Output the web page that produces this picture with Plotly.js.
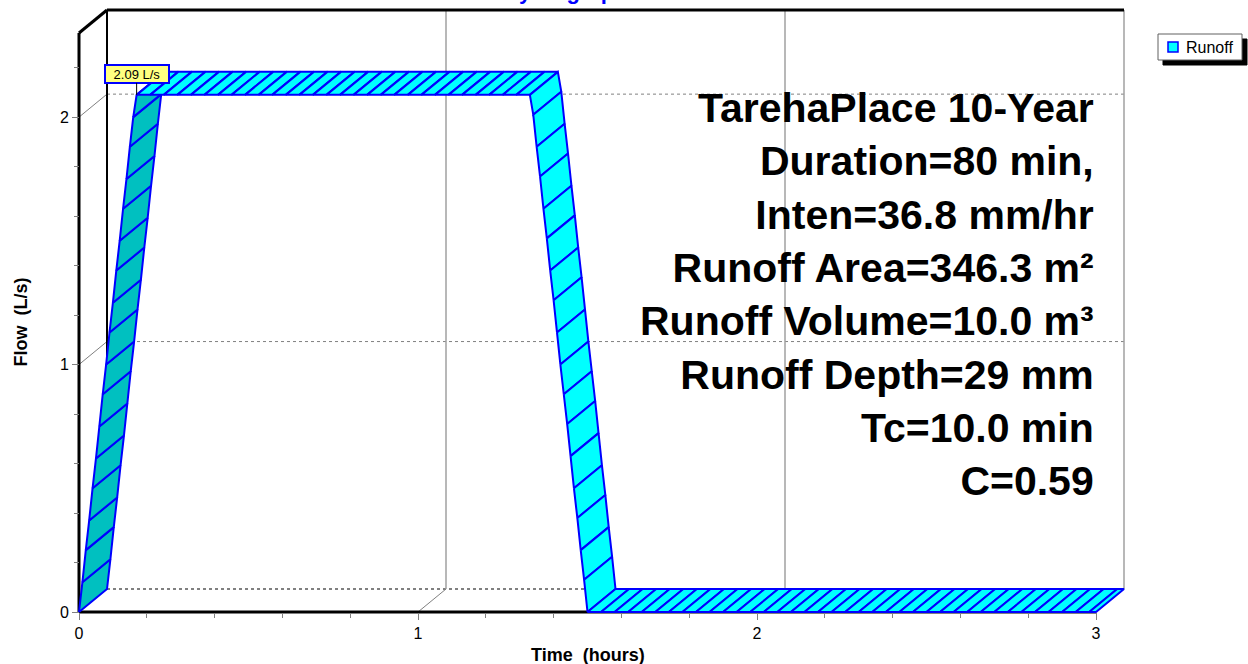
<!DOCTYPE html>
<html><head><meta charset="utf-8">
<script src="https://cdn.plot.ly/plotly-3.0.1.min.js"></script>
<style>html,body{margin:0;padding:0;background:#fff;}#chart{width:1248px;height:664px;}</style>
</head><body><div id="chart"></div>
<script>
// ---------------- data ----------------
const titleText = 'Hydrograph';
const seriesName = 'Runoff';
const xTitle = 'Time  (hours)';
const yTitle = 'Flow  (L/s)';
const xTickVals = [0, 1, 2, 3];
const xTickText = ['0', '1', '2', '3'];
const xMinorTicks = [0.2,0.4,0.6,0.8,1.2,1.4,1.6,1.8,2.2,2.4,2.6,2.8];
const yTickVals = [0, 1, 2];
const yTickText = ['0', '1', '2'];
const yMinorTicks = [0.2,0.4,0.6,0.8,1.2,1.4,1.6,1.8,2.2];

const riseTime = [0,0.01,0.02,0.03,0.04,0.05,0.06,0.07,0.08,0.09,0.10,0.11,0.12,0.13,0.14,0.15,0.16,0.17];
const riseFlow = [0,0.12,0.25,0.37,0.50,0.62,0.75,0.88,1.00,1.13,1.25,1.38,1.50,1.63,1.75,1.88,2.00,2.09];
const peakTime = [0.21,0.25,0.29,0.33,0.37,0.41,0.45,0.49,0.53,0.57,0.61,0.65,0.69,0.73,0.77,0.81,0.85,0.89,0.93,0.97,1.01,1.05,1.09,1.13,1.17,1.21,1.25,1.29,1.33];
const peakFlow = [2.09,2.09,2.09,2.09,2.09,2.09,2.09,2.09,2.09,2.09,2.09,2.09,2.09,2.09,2.09,2.09,2.09,2.09,2.09,2.09,2.09,2.09,2.09,2.09,2.09,2.09,2.09,2.09,2.09];
const fallTime = [1.34,1.35,1.36,1.37,1.38,1.39,1.40,1.41,1.42,1.43,1.44,1.45,1.46,1.47,1.48,1.49,1.50];
const fallFlow = [2.01,1.88,1.76,1.63,1.51,1.38,1.26,1.13,1.00,0.88,0.76,0.63,0.50,0.38,0.25,0.13,0.00];
const tailTime = [1.54,1.58,1.62,1.66,1.70,1.74,1.78,1.82,1.86,1.90,1.94,1.98,2.02,2.06,2.10,2.14,2.18,2.22,2.26,2.30,2.34,2.38,2.42,2.46,2.50,2.54,2.58,2.62,2.66,2.70,2.74,2.78,2.82,2.86,2.90,2.94,2.98,3.00];
const tailFlow = [0,0,0,0,0,0,0,0,0,0,0,0,0,0,0,0,0,0,0,0,0,0,0,0,0,0,0,0,0,0,0,0,0,0,0,0,0,0];

const peakLabel = '2.09 L/s';
const peakLabelTime = 0.17;
const peakLabelFlow = 2.09;

const infoLines = ['TarehaPlace 10-Year','Duration=80 min,','Inten=36.8 mm/hr','Runoff Area=346.3 m²','Runoff Volume=10.0 m³','Runoff Depth=29 mm','Tc=10.0 min','C=0.59'];

// ---------------- geometry / style ----------------
const W = 1248, H = 664;
const FL = 79, FR = 1096, FB = 612, FT = 33;   // front plane box (px)
const DEPTH_X = 28, DEPTH_Y = 23, PAD = 4;
const X_MAX = 3, Q_TOP = 2.34;
const pxH = (FR - FL) / X_MAX, pxQ = (FB - FT) / Q_TOP;
const DX = DEPTH_X / pxH, DY = DEPTH_Y / pxQ;
const margin = {l: FL - PAD, r: W - (FR + DEPTH_X + PAD), t: FT - DEPTH_Y - PAD, b: H - FB - PAD, pad: 0};
const plotW = W - margin.l - margin.r, plotH = H - margin.t - margin.b;
const xRange = [-PAD / pxH, X_MAX + (DEPTH_X + PAD) / pxH];
const yRange = [-PAD / pxQ, Q_TOP + (DEPTH_Y + PAD) / pxQ];
const px2x = p => (p - margin.l) / plotW;
const px2y = p => 1 - (p - margin.t) / plotH;

const FONT = 'Liberation Sans, Arial, Helvetica, sans-serif';
const CYAN = '#00ffff', TEAL = '#00c0c0', BLUE = '#0000ff', GRAY = '#808080', LGRAY = '#a0a0a0';

const time = riseTime.concat(peakTime, fallTime, tailTime);
const flow = riseFlow.concat(peakFlow, fallFlow, tailFlow);

// ribbon quads, painted in time order
const traces = [];
for (let i = 0; i < time.length - 1; i++) {
  const t0 = time[i], t1 = time[i + 1], q0 = flow[i], q1 = flow[i + 1];
  traces.push({
    type: 'scatter', mode: 'lines',
    x: [t0, t1, t1 + DX, t0 + DX, t0],
    y: [q0, q1, q1 + DY, q0 + DY, q0],
    fill: 'toself',
    fillcolor: q1 > q0 ? TEAL : CYAN,
    line: {color: BLUE, width: 2},
    name: seriesName, showlegend: false, hoverinfo: 'skip'
  });
}

const shapes = [];
function seg(x0, y0, x1, y1, color, width, dash, layer) {
  shapes.push({type: 'line', xref: 'x', yref: 'y', x0, y0, x1, y1,
    line: {color, width, dash: dash || 'solid'}, layer: layer || 'below'});
}
// back wall grid
yTickVals.forEach(q => {
  seg(DX, q + DY, X_MAX + DX, q + DY, GRAY, q === 0 ? 2 : 1, 'dot');
  if (q > 0) seg(0, q, DX, q + DY, GRAY, 1);
});
xTickVals.forEach(t => {
  if (t > 0) seg(t + DX, DY, t + DX, Q_TOP + DY, LGRAY, 1.5);
  if (t > 0) seg(t, 0, t + DX, DY, GRAY, 1);
});
// back left edge and frame
seg(DX, DY, DX, Q_TOP + DY, '#000000', 2);
seg(0, 0, X_MAX, 0, '#000000', 3);
seg(0, 0, 0, Q_TOP, '#000000', 3);
seg(0, Q_TOP, DX, Q_TOP + DY, '#000000', 3);
seg(DX, Q_TOP + DY, X_MAX + DX, Q_TOP + DY, '#000000', 3);

// legend box (paper)
function rect(x0p, y0p, x1p, y1p, fill, lineColor, lw) {
  shapes.push({type: 'rect', xref: 'paper', yref: 'paper',
    x0: px2x(x0p), x1: px2x(x1p), y0: px2y(y1p), y1: px2y(y0p),
    fillcolor: fill, line: {color: lineColor, width: lw}, layer: 'above'});
}
rect(1163, 39, 1247, 65, '#000000', '#000000', 1);
rect(1158, 34, 1242, 60, '#ffffff', '#606060', 1);
rect(1168, 42, 1178, 52, CYAN, BLUE, 1.5);

const annotations = [
  {text: '<b>' + titleText + '</b>', xref: 'paper', yref: 'paper', x: px2x(565), y: px2y(6),
   xanchor: 'center', yanchor: 'bottom', showarrow: false, font: {family: FONT, size: 22, color: BLUE}},
  {text: '<b>' + xTitle.replace(/  /g, '&nbsp; ') + '</b>', xref: 'paper', yref: 'paper', x: px2x((FL + FR) / 2), y: px2y(655),
   xanchor: 'center', yanchor: 'middle', showarrow: false, font: {family: FONT, size: 18, color: '#000'}},
  {text: '<b>' + yTitle.replace(/  /g, '&nbsp; ') + '</b>', xref: 'paper', yref: 'paper', x: px2x(20), y: px2y((FT + FB) / 2),
   xanchor: 'center', yanchor: 'middle', textangle: -90, showarrow: false, font: {family: FONT, size: 18, color: '#000'}},
  {text: '<b>' + infoLines.join('<br>') + '</b>', xref: 'x', yref: 'paper', x: X_MAX, y: px2y(294.5),
   xanchor: 'right', yanchor: 'middle', align: 'right', showarrow: false, font: {family: FONT, size: 41, color: '#000'}},
  {text: seriesName, xref: 'paper', yref: 'paper', x: px2x(1184), y: px2y(47),
   xanchor: 'left', yanchor: 'middle', showarrow: false, font: {family: FONT, size: 16, color: '#000'}},
  {text: peakLabel, xref: 'x', yref: 'y', x: peakLabelTime, y: peakLabelFlow, showarrow: true,
   arrowhead: 0, arrowwidth: 1, arrowcolor: '#000', ax: 0, ay: -21, bgcolor: '#ffff80',
   bordercolor: BLUE, borderwidth: 2, borderpad: 1, width: 60, height: 14,
   font: {family: FONT, size: 13, color: '#000'}}
];

const axisCommon = {showgrid: false, zeroline: false, showline: false, ticks: 'outside', ticklen: 7,
  tickcolor: GRAY, tickwidth: 1, tickfont: {family: FONT, size: 16, color: '#000'}, anchor: 'free', fixedrange: true};

const layout = {
  width: W, height: H, margin, showlegend: false,
  paper_bgcolor: '#ffffff', plot_bgcolor: 'rgba(0,0,0,0)',
  xaxis: Object.assign({}, axisCommon, {range: xRange, tickmode: 'array', tickvals: xTickVals, ticktext: xTickText,
    position: PAD / plotH,
    minor: {tickmode: 'array', tickvals: xMinorTicks, ticks: 'outside', ticklen: 5, tickcolor: GRAY, tickwidth: 1}}),
  yaxis: Object.assign({}, axisCommon, {range: yRange, tickmode: 'array', tickvals: yTickVals, ticktext: yTickText,
    position: PAD / plotW,
    minor: {tickmode: 'array', tickvals: yMinorTicks, ticks: 'outside', ticklen: 5, tickcolor: GRAY, tickwidth: 1}}),
  shapes, annotations
};

Plotly.newPlot('chart', traces, layout, {displayModeBar: false, staticPlot: true});
</script></body></html>
